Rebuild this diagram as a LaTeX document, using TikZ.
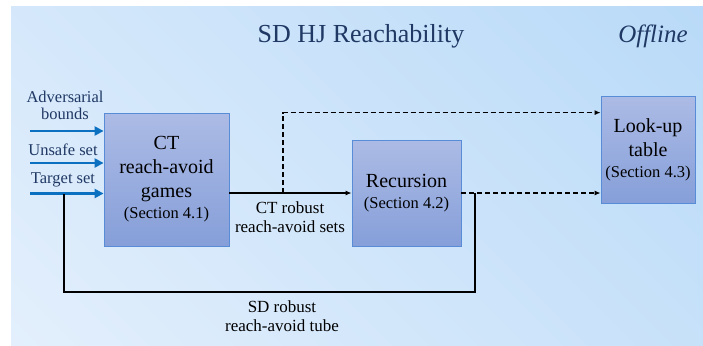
\documentclass[tikz,border=0pt]{standalone}
\usepackage{fontspec}
\setmainfont{Liberation Serif}
\usetikzlibrary{arrows.meta}
\definecolor{navy}{RGB}{31,56,100}
\definecolor{bgdark}{RGB}{185,218,248}
\definecolor{bglight}{RGB}{227,239,252}
\definecolor{boxtop}{RGB}{172,187,229}
\definecolor{boxbot}{RGB}{134,159,217}
\definecolor{boxedge}{RGB}{88,140,214}
\definecolor{inblue}{RGB}{12,112,192}
\newcommand\secline[1]{{\fontsize{16.5}{19}\selectfont(Section #1)}}
\begin{document}
\begin{tikzpicture}[x=1pt,y=-1pt,
  blockbox/.style={draw=boxedge, line width=0.8pt, top color=boxtop, bottom color=boxbot,
    align=center, inner sep=0pt, font=\fontsize{20}{24}\selectfont},
  inlabel/.style={text=navy, align=center, inner sep=0pt, font=\fontsize{16.5}{17}\selectfont},
  edgelabel/.style={text=black, align=center, inner sep=0pt, font=\fontsize{17}{19}\selectfont},
  inarrow/.style={draw=inblue, line width=2.6pt, -{Triangle[length=9pt,width=9pt]}},
  flow/.style={draw=black, line width=1.4pt, -{Latex[length=6pt,width=5pt]}},
  dashflow/.style={flow, dash pattern=on 5pt off 3pt},
  plainline/.style={draw=black, line width=1.4pt}]

% canvas and backdrop: a diagonal gradient, light at lower left, darker at upper right
\useasboundingbox (0,0) rectangle (703,345);
\fill[white] (0,0) rectangle (703,345);
\begin{scope}
  \clip (11,7) rectangle (703,345);
  \shade[top color=bgdark, bottom color=bglight, shading angle=-45]
    (-7,-188) rectangle (721,540);
\end{scope}

% headings
\node[text=navy, inner sep=0pt, font=\fontsize{26}{30}\selectfont] (title) at (361,36) {SD HJ Reachability};
\node[text=navy, inner sep=0pt, font=\fontsize{25}{30}\selectfont\itshape] (mode) at (653,36) {Offline};

% processing blocks
\node[blockbox, minimum width=125pt, minimum height=133pt] (ct) at (166.5,179.5)
  {CT\\reach-avoid\\games\\[-3pt]\secline{4.1}};
\node[blockbox, minimum width=109pt, minimum height=106pt] (rec) at (406.5,193)
  {Recursion\\[-3pt]\secline{4.2}};
\node[blockbox, minimum width=94pt, minimum height=107pt] (lut) at (648,149.5)
  {Look-up\\table\\[-3pt]\secline{4.3}};

% inputs
\node[inlabel] (advlab) at (65,105.5) {Adversarial\\bounds};
\node[inlabel] (unslab) at (63,150) {Unsafe set};
\node[inlabel] (tgtlab) at (63,180) {Target set};
\coordinate (adv) at (30,131);
\coordinate (uns) at (30,163);
\coordinate (tgt) at (30,193.5);
\draw[inarrow] (adv) -- (ct.west |- adv);
\draw[inarrow] (uns) -- (ct.west |- uns);
\draw[inarrow] (tgt) -- (ct.west |- tgt);

% CT sets to recursion
\draw[flow] (ct.east |- rec.west) -- (rec.west);
\node[edgelabel] (ctlab) at (290,217) {CT robust\\reach-avoid sets};

% dashed feeds into the look-up table
\coordinate (split) at (283,193);
\draw[dashflow] (split) |- ([yshift=-17pt]lut.north west);
\draw[dashflow] (rec.east) -- (lut.west |- rec.east);

% feedback tube
\coordinate (tap) at (475,193);
\coordinate (tin) at (64,193.5);
\draw[plainline] (tap) -- ++(0,99) -| (tin);
\node[edgelabel] (sdlab) at (282,316.5) {SD robust\\reach-avoid tube};
\end{tikzpicture}
\end{document}
